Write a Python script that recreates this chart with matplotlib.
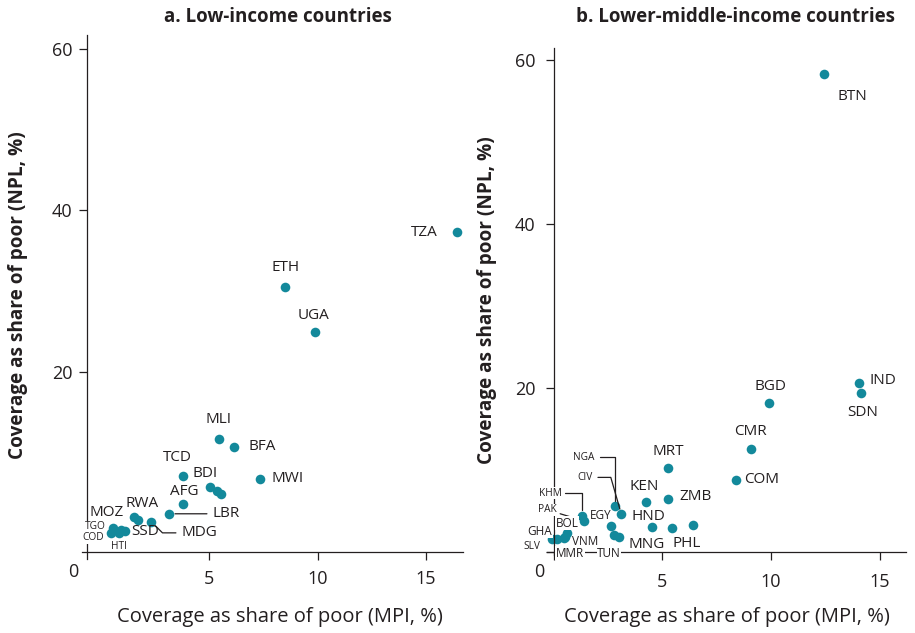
import matplotlib
matplotlib.use("Agg")
import matplotlib.pyplot as plt

plt.rcParams['font.family'] = ['Open Sans', 'DejaVu Sans']
plt.rcParams['text.color'] = '#231f20'

W, H = 915, 633
dot = '#13899b'
ink = '#231f20'

# a. Low-income countries
a_codes = ['TZA', 'ETH', 'UGA', 'MLI', 'BFA', 'TCD', 'BDI', '', '', 'MWI', 'AFG',
           'LBR', 'MDG', 'MOZ', 'RWA', 'SSD', 'TGO', 'COD', 'HTI', '']
a_mpi = [16.44, 8.51, 9.89, 5.44, 6.16, 3.78, 5.06, 5.39, 5.55, 7.33, 3.82,
         3.18, 2.35, 1.55, 1.72, 1.15, 0.60, 0.50, 0.85, 0.95]
a_npl = [37.3, 30.5, 24.9, 11.7, 10.7, 7.1, 5.7, 5.2, 4.9, 6.75, 3.6,
         2.4, 1.4, 2.0, 1.6, 0.3, 0.7, 0.06, 0.0, 0.43]

# b. Lower-middle-income countries
b_codes = ['BTN', 'IND', 'SDN', 'BGD', 'CMR', 'COM', 'MRT', 'ZMB', 'KEN', 'HND',
           'MNG', 'PHL', 'NGA', 'CIV', 'EGY', 'TUN', '', 'KHM', 'PAK', 'SLV',
           'GHA', 'VNM', 'BOL', 'MMR']
b_mpi = [12.45, 14.03, 14.14, 9.92, 9.09, 8.40, 5.28, 5.28, 4.26, 4.53,
         5.45, 6.41, 2.84, 3.12, 2.66, 3.01, 2.78, 1.30, 1.40, -0.06,
         0.16, 0.48, 0.64, 0.53]
b_npl = [58.3, 20.6, 19.35, 18.2, 12.6, 8.8, 10.2, 6.5, 6.1, 3.05,
         3.0, 3.3, 5.6, 4.6, 3.2, 1.83, 2.04, 4.4, 3.8, 1.6,
         1.6, 1.67, 2.3, 1.83]

# label placement: offset in pixels (dx, dy), font size, leader style
big, mid, small = 11, 8.5, 7.3
a_place = {
    'TZA': (-33, 0, big, None), 'ETH': (0, 19, big, None), 'UGA': (-2, 17, big, None),
    'MLI': (0, 19, big, None), 'BFA': (28, 0, big, None), 'TCD': (-5, 18, big, None),
    'BDI': (-5, 14, big, None), 'MWI': (28, 0, big, None), 'AFG': (1, 13, big, None),
    'LBR': (43, 0, big, 'straight'), 'MDG': (30, -11, big, 'angle,angleA=0,angleB=-45'),
    'MOZ': (-27, 5, big, None), 'RWA': (4, 17, big, None), 'SSD': (20, -1, big, None),
    'TGO': (-18, 1, small, None), 'COD': (-18, -5, small, None), 'HTI': (0, -13, small, None),
}
b_place = {
    'BTN': (28, -23, big, None), 'IND': (24, 3, big, None), 'SDN': (2, -19, big, None),
    'BGD': (1, 16, big, None), 'CMR': (-1, 17, big, None), 'COM': (25, 0, big, None),
    'MRT': (0, 17, big, None), 'ZMB': (27, 2, big, None), 'KEN': (-2, 16, big, None),
    'HND': (-4, 11, big, None), 'MNG': (-25, -17, big, None), 'PHL': (-6, -18, big, None),
    'EGY': (-11, 10, mid, None), 'TUN': (-10, -16, mid, None), 'MMR': (5, -16, mid, None),
    'SLV': (-20, -7, small, None), 'GHA': (-17, 8, mid, None), 'VNM': (21, -3, mid, None),
    'BOL': (0, 10, mid, None),
    'NGA': (-21, 49, small, 'angle,angleA=0,angleB=90'),
    'CIV': (-29, 37, small, 'angle,angleA=0,angleB=-74'),
    'KHM': (-20, 23, small, 'angle,angleA=0,angleB=90'),
    'PAK': (-27, 11, small, 'straight'),
}
# labels that sit on an axis line and mask it
masked = {'TGO', 'COD', 'MOZ', 'KHM', 'PAK', 'GHA', 'BOL', 'SLV', 'MMR', 'TUN'}

fig = plt.figure(figsize=(W / 100, H / 100), dpi=100)


def add_axes(x0, x1, ytop, ybot):
    return fig.add_axes([x0 / W, 1 - ybot / H, (x1 - x0) / W, (ybot - ytop) / H])


def label_points(ax, codes, xs, ys, place):
    for c, x, y in zip(codes, xs, ys):
        if c not in place:
            continue
        dx, dy, fs, lead = place[c]
        kw = {}
        if c in masked:
            kw['bbox'] = dict(boxstyle='square,pad=0.05', fc='white', ec='none')
        if lead is not None:
            ha = 'left' if dx > 0 else 'right'
            cs = 'arc3' if lead == 'straight' else lead
            kw['arrowprops'] = dict(arrowstyle='-', color=ink, lw=0.9,
                                    shrinkA=2, shrinkB=4, connectionstyle=cs)
        else:
            ha = 'center'
        ax.annotate(c, (x, y), xytext=(dx, dy), textcoords='offset pixels',
                    ha=ha, va='center', fontsize=fs, color=ink,
                    zorder=4, **kw)


def style(ax):
    for s in ['top', 'right']:
        ax.spines[s].set_visible(False)
    for s in ['left', 'bottom']:
        ax.spines[s].set_color(ink)
        ax.spines[s].set_linewidth(0.9)
    ax.tick_params(colors=ink, labelsize=13, width=0.9)
    ax.patch.set_alpha(0)


# panel a
ax1 = add_axes(82, 463, 35, 559)
ax1.scatter(a_mpi, a_npl, s=48, color=dot, zorder=2, linewidths=0)
ax1.set_xlim(-0.85, 16.7)
ax1.set_ylim(-3.2, 61.7)
ax1.spines['left'].set_position(('data', -0.6))
ax1.spines['bottom'].set_position(('data', -2.3))
ax1.set_xticks([5, 10, 15])
ax1.set_yticks([20, 40, 60])
style(ax1)
ax1.tick_params(axis='x', length=6, pad=7)
ax1.tick_params(axis='y', length=6, pad=5)
label_points(ax1, a_codes, a_mpi, a_npl, a_place)

# panel b
ax2 = add_axes(547, 906, 48, 555)
ax2.scatter(b_mpi, b_npl, s=48, color=dot, zorder=2, linewidths=0)
ax2.set_xlim(-0.3, 16.2)
ax2.set_ylim(-0.35, 61.46)
ax2.spines['left'].set_position(('data', 0))
ax2.spines['bottom'].set_position(('data', 0))
ax2.set_xticks([0, 5, 10, 15], ['', '5', '10', '15'])
ax2.set_yticks([0, 20, 40, 60], ['', '20', '40', '60'])
style(ax2)
ax2.tick_params(axis='x', length=6, pad=9)
ax2.tick_params(axis='y', length=6, pad=7)
label_points(ax2, b_codes, b_mpi, b_npl, b_place)


def ftext(x, y, s, **kw):
    fig.text(x / W, 1 - y / H, s, ha='center', va='center', color=ink, **kw)


ftext(73, 572, '0', fontsize=13)
ftext(539, 572, '0', fontsize=13)
ftext(278, 17, 'a. Low-income countries', fontsize=13.5, fontweight='bold')
ftext(735, 17, 'b. Lower-middle-income countries', fontsize=13.5, fontweight='bold')
ftext(280, 617, 'Coverage as share of poor (MPI, %)', fontsize=14.5)
ftext(727, 617, 'Coverage as share of poor (MPI, %)', fontsize=14.5)
ftext(18, 295, 'Coverage as share of poor (NPL, %)', fontsize=13.7, fontweight='bold', rotation=90)
ftext(487, 300, 'Coverage as share of poor (NPL, %)', fontsize=13.7, fontweight='bold', rotation=90)

fig.savefig('out.png', dpi=100)
